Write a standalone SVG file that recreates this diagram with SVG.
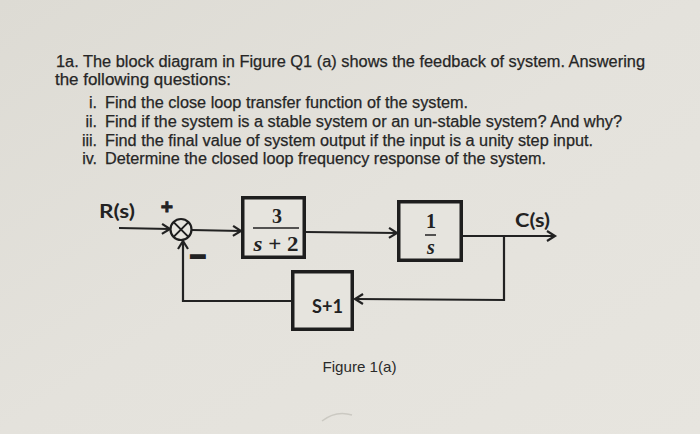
<svg xmlns="http://www.w3.org/2000/svg" width="700" height="434" viewBox="0 0 700 434">
<defs>
<linearGradient id="bg" x1="0" y1="0" x2="1" y2="1">
<stop offset="0" stop-color="#dddbd4"/>
<stop offset="0.5" stop-color="#e4e2dc"/>
<stop offset="1" stop-color="#e7e5df"/>
</linearGradient>
<marker id="arr" markerUnits="userSpaceOnUse" markerWidth="14" markerHeight="14" viewBox="0 0 14 14" refX="11" refY="7" orient="auto">
<path d="M3,2 L11,7 L3,12" fill="none" stroke="#222" stroke-width="2.2" stroke-linejoin="miter"/>
</marker>
<style>
.q{font-family:"Liberation Sans",Arial,sans-serif;font-size:16px;fill:#262626;stroke:#262626;stroke-width:0.25}
.lab{font-family:Lato,"Open Sans",sans-serif;font-weight:700;fill:#222}
.blk{fill:#e6e4de;stroke:#1e1e1e;stroke-width:3.5}
.ln{fill:none;stroke:#222;stroke-width:2.2}
.m{font-family:"Liberation Serif","DejaVu Serif",serif;font-weight:700;font-size:20px;fill:#222}
.cap{font-family:"Liberation Sans",Arial,sans-serif;font-size:15px;fill:#2a2a2a}
</style>
</defs>
<rect x="0" y="0" width="700" height="434" fill="url(#bg)"/>

<g id="question">
<text class="q" x="56" y="67" textLength="589" lengthAdjust="spacingAndGlyphs">1a. The block diagram in Figure Q1 (a) shows the feedback of system. Answering</text>
<text class="q" x="55" y="85" textLength="176" lengthAdjust="spacingAndGlyphs">the following questions:</text>
<text class="q" x="97" y="108" text-anchor="end">i.</text>
<text class="q" x="105" y="108" textLength="363" lengthAdjust="spacingAndGlyphs">Find the close loop transfer function of the system.</text>
<text class="q" x="97" y="127" text-anchor="end">ii.</text>
<text class="q" x="105" y="127" textLength="517" lengthAdjust="spacingAndGlyphs">Find if the system is a stable system or an un-stable system? And why?</text>
<text class="q" x="97" y="146" text-anchor="end">iii.</text>
<text class="q" x="105" y="146" textLength="488" lengthAdjust="spacingAndGlyphs">Find the final value of system output if the input is a unity step input.</text>
<text class="q" x="97" y="164" text-anchor="end">iv.</text>
<text class="q" x="105" y="164" textLength="441" lengthAdjust="spacingAndGlyphs">Determine the closed loop frequency response of the system.</text>
</g>

<g id="connectors">
<line class="ln" x1="119" y1="228" x2="170" y2="229" marker-end="url(#arr)"/>
<line class="ln" x1="191.5" y1="230" x2="241" y2="231" marker-end="url(#arr)"/>
<line class="ln" x1="306" y1="232" x2="397" y2="233" marker-end="url(#arr)"/>
<line class="ln" x1="463" y1="236" x2="555" y2="236" marker-end="url(#arr)"/>
<polyline class="ln" points="504,236 504,300 355,299" marker-end="url(#arr)"/>
<polyline class="ln" points="291,301 183,301 183,241" marker-end="url(#arr)"/>
</g>

<g id="input-label">
<text class="lab" x="99" y="218" font-size="18" textLength="36" lengthAdjust="spacingAndGlyphs">R(s)</text>
</g>

<g id="sum">
<circle cx="181" cy="229.5" r="10.5" fill="#e6e4de" stroke="#1e1e1e" stroke-width="2.2"/>
<path d="M173.6,222.1 L188.4,236.9 M188.4,222.1 L173.6,236.9" stroke="#1e1e1e" stroke-width="2"/>
<text x="167" y="214" text-anchor="middle" font-family="Liberation Sans,Arial,sans-serif" font-weight="700" font-size="21" fill="#222" stroke="#222" stroke-width="0.8">+</text>
<text x="198" y="266" text-anchor="middle" font-family="Liberation Sans,Arial,sans-serif" font-weight="700" font-size="28" fill="#222" stroke="#222" stroke-width="1.8">−</text>
</g>

<g id="block1">
<rect class="blk" x="242.75" y="197.75" width="61.5" height="59.5"/>
<text class="m" x="277" y="223" text-anchor="middle">3</text>
<line x1="253" y1="228" x2="299" y2="228" stroke="#222" stroke-width="1.5"/>
<text class="m" x="276" y="251" text-anchor="middle" textLength="45" lengthAdjust="spacingAndGlyphs"><tspan font-style="italic">s</tspan> + 2</text>
</g>

<g id="block2">
<rect class="blk" x="398.75" y="201.75" width="62.5" height="58.5"/>
<text class="m" x="431" y="228" text-anchor="middle">1</text>
<line x1="425" y1="235" x2="436" y2="235" stroke="#222" stroke-width="1.5"/>
<text class="m" x="431" y="254" text-anchor="middle" font-style="italic">s</text>
</g>

<g id="output-label">
<text class="lab" x="515" y="227" font-size="18" textLength="35" lengthAdjust="spacingAndGlyphs">C(s)</text>
</g>

<g id="block3">
<rect class="blk" x="292.75" y="271.75" width="59.5" height="57.5"/>
<text class="lab" x="312" y="313" font-size="18" textLength="31" lengthAdjust="spacingAndGlyphs">S+1</text>
</g>

<g id="caption">
<text class="cap" x="322.5" y="372" textLength="74" lengthAdjust="spacingAndGlyphs">Figure 1(a)</text>
</g>

<path d="M322,421 Q336,410 352,415" fill="none" stroke="#cbc9c2" stroke-width="1.5"/>
</svg>
